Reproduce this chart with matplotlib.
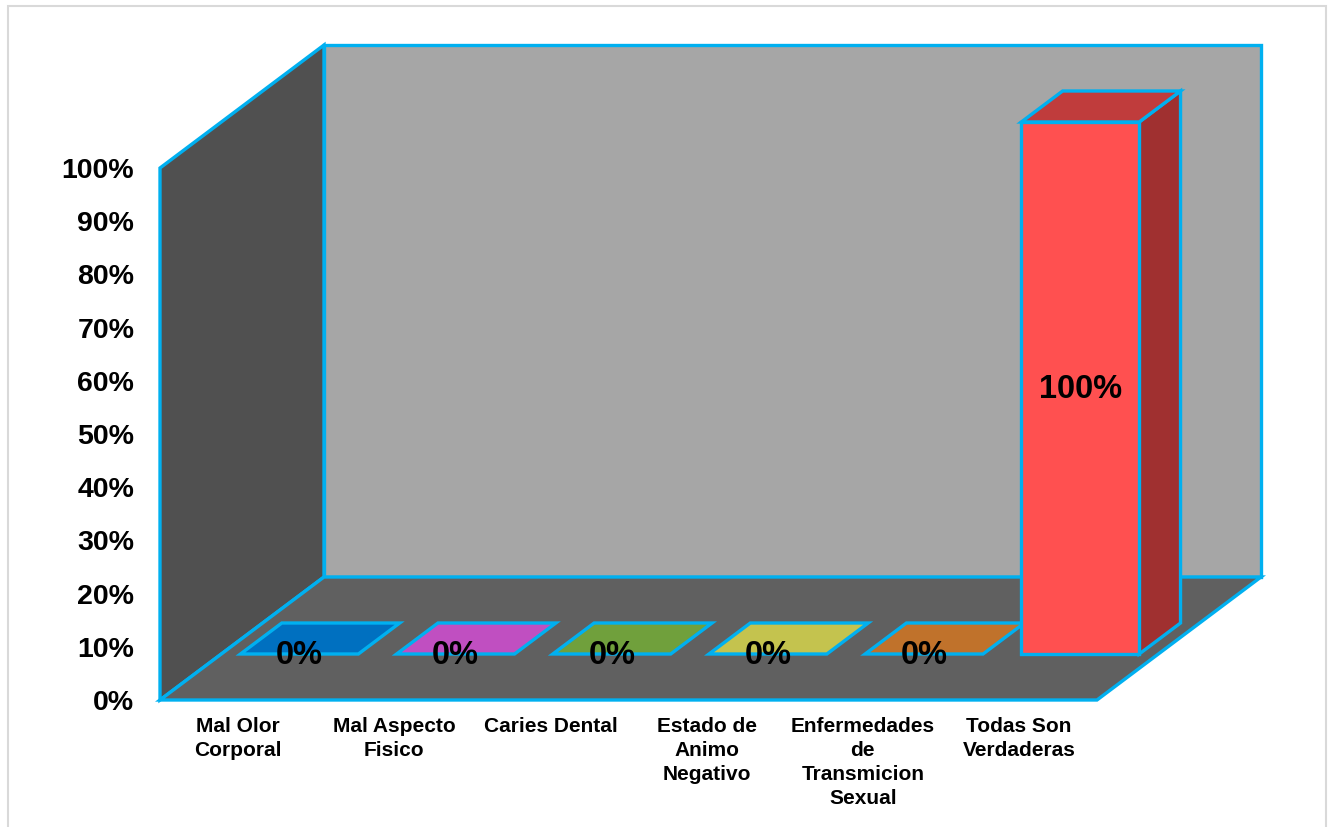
import matplotlib
matplotlib.use("Agg")
import matplotlib.pyplot as plt
from matplotlib.patches import Polygon, Rectangle

# ---------------- data ----------------
categories = ["Mal Olor\nCorporal", "Mal Aspecto\nFisico", "Caries Dental",
              "Estado de\nAnimo\nNegativo", "Enfermedades\nde\nTransmicion\nSexual",
              "Todas Son\nVerdaderas"]
values = [0, 0, 0, 0, 0, 100]
value_labels = ["0%", "0%", "0%", "0%", "0%", "100%"]
front_colors = ["#0070C0", "#C04FC1", "#70A03C", "#C4C34E", "#C0722B", "#FF5050"]
top_colors = ["#0070C0", "#C04FC1", "#70A03C", "#C4C34E", "#C0722B", "#C03C3C"]
side_colors = ["#00508A", "#8A388A", "#50722B", "#8C8B38", "#8A521F", "#A03030"]
yticks = [0, 10, 20, 30, 40, 50, 60, 70, 80, 90, 100]
ytick_labels = ["0%", "10%", "20%", "30%", "40%", "50%", "60%", "70%", "80%", "90%", "100%"]

# ---------------- style ----------------
plt.rcParams['font.family'] = ['Liberation Sans', 'DejaVu Sans']
EDGE = "#00B0F0"
LW = 2.4
W, H = 1329, 827
fig = plt.figure(figsize=(W / 100, H / 100), dpi=100)
fig.patch.set_facecolor("white")

# outer chart border
fig.patches.append(Rectangle((8 / W, -0.05), (1318 / W), (H - 6) / H + 0.05,
                             transform=fig.transFigure, fill=False,
                             edgecolor="#D9D9D9", lw=1.5))

# axes = front plane of the 3-D box
ax = fig.add_axes([160 / W, 127 / H, 937 / W, 532 / H])
n = len(categories)
ax.set_xlim(0, n)
ax.set_ylim(0, 100)
for s in ax.spines.values():
    s.set_visible(False)
ax.set_facecolor("none")

# oblique depth projection (in data units)
KX = (164 / 937) * n      # x shift per unit depth
KY = (123 / 532) * 100    # y shift per unit depth


def P(x, y, d):
    return (x + KX * d, y + KY * d)


def poly(pts, fc, z):
    ax.add_patch(Polygon(pts, closed=True, facecolor=fc, edgecolor=EDGE,
                         lw=LW, joinstyle="miter", clip_on=False, zorder=z))


top = max(yticks)
# walls and floor
poly([P(0, 0, 1), P(n, 0, 1), P(n, top, 1), P(0, top, 1)], "#A6A6A6", 1)
poly([P(0, 0, 0), P(0, 0, 1), P(0, top, 1), P(0, top, 0)], "#505050", 1)
poly([P(0, 0, 0), P(n, 0, 0), P(n, 0, 1), P(0, 0, 1)], "#606060", 1)

# bars
hw = 0.755 / 2
d0, d1 = 0.374, 0.626
for i, v in enumerate(values):
    x0, x1 = i + 0.5 - hw, i + 0.5 + hw
    if v > 0:
        poly([P(x1, 0, d0), P(x1, 0, d1), P(x1, v, d1), P(x1, v, d0)], side_colors[i], 3)
        poly([P(x0, v, d0), P(x1, v, d0), P(x1, v, d1), P(x0, v, d1)], top_colors[i], 3)
        poly([P(x0, 0, d0), P(x1, 0, d0), P(x1, v, d0), P(x0, v, d0)], front_colors[i], 4)
    else:
        poly([P(x0, 0, d0), P(x1, 0, d0), P(x1, 0, d1), P(x0, 0, d1)], top_colors[i], 3)
    lx, ly = P(i + 0.5, v / 2, d0)
    ax.text(lx, ly - 0.3, value_labels[i], ha="center", va="center", fontsize=23.5,
            fontweight="bold", color="black", zorder=6, clip_on=False)

# axis labels
ax.set_yticks(yticks, ytick_labels)
ax.set_xticks([i + 0.5 for i in range(n)], categories)
ax.tick_params(axis="y", length=0, pad=18.5, labelsize=20.5)
ax.tick_params(axis="x", length=0, pad=12, labelsize=15)
for t in ax.get_yticklabels():
    t.set_fontweight("bold")
for t in ax.get_xticklabels():
    t.set_fontweight("bold")
    t.set_linespacing(1.35)

fig.savefig("out.png", dpi=100)
